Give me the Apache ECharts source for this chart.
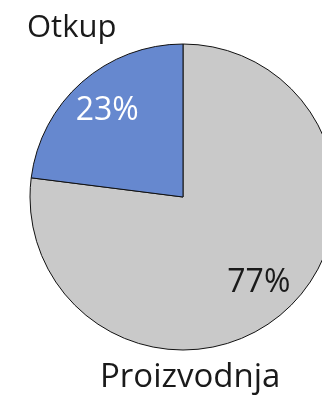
<!DOCTYPE html>
<html>
<head>
<meta charset="utf-8">
<script src="https://cdn.jsdelivr.net/npm/echarts@6/dist/echarts.min.js"></script>
<style>
  html, body { margin: 0; padding: 0; background: #fff; }
  #chart { width: 322px; height: 398px; }
</style>
</head>
<body>
<div id="chart"></div>
<script>
// podaci
var categories = ['Proizvodnja', 'Otkup'];
var values = [77, 23];
var colors = ['#c9c9c9', '#6688cf'];
var labelColors = ['#1a1a1a', '#ffffff'];

var font = '"Open Sans", sans-serif';
var center = [183, 197];
var radius = 153;

var pieData = categories.map(function (name, i) {
    return { name: name, value: values[i], itemStyle: { color: colors[i] } };
});
var labelData = categories.map(function (name, i) {
    return { name: name, value: values[i], label: { color: labelColors[i] } };
});

var chart = echarts.init(document.getElementById('chart'));
chart.setOption({
    backgroundColor: '#ffffff',
    animation: false,
    series: [
        {
            type: 'pie',
            center: center,
            radius: radius,
            startAngle: 90,
            clockwise: true,
            label: { show: false },
            labelLine: { show: false },
            itemStyle: { borderColor: '#111', borderWidth: 1 },
            emphasis: { disabled: true },
            data: pieData
        },
        {
            // samo za postotke, malo dalje od sredine
            type: 'pie',
            center: center,
            radius: [radius * 0.46, radius],
            startAngle: 90,
            clockwise: true,
            silent: true,
            itemStyle: { color: 'transparent', borderWidth: 0 },
            label: {
                show: true,
                position: 'inside',
                fontFamily: font,
                fontSize: 32,
                formatter: function (p) { return p.value + '%'; }
            },
            labelLine: { show: false },
            emphasis: { disabled: true },
            data: labelData
        }
    ],
    graphic: [
        {
            type: 'text', left: 27, top: 13,
            style: { text: categories[1], font: '31px ' + font, fill: '#1a1a1a' }
        },
        {
            type: 'text', left: 100, top: 361,
            style: { text: categories[0], font: '33px ' + font, fill: '#1a1a1a' }
        }
    ]
});
</script>
</body>
</html>
